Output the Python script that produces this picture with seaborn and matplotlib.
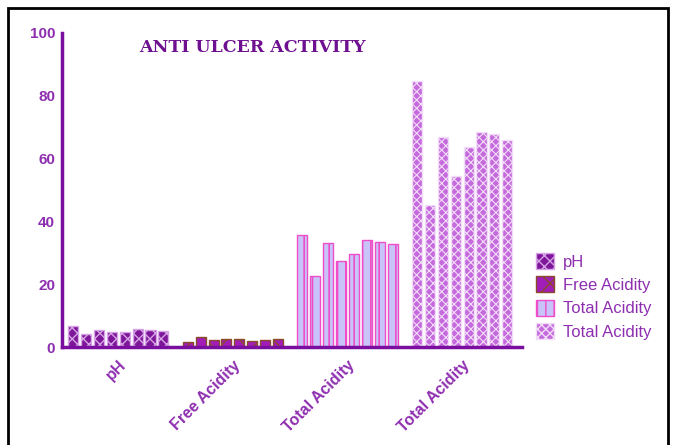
import pandas as pd
import numpy as np
import matplotlib
matplotlib.use("Agg")
import matplotlib.pyplot as plt
import matplotlib.patches as mpatches
import seaborn as sns

# ------------- DATA -------------
params = ["pH", "Free Acidity", "Total Acidity", "Total Acidity "]
legend_labels = ["pH", "Free Acidity", "Total Acidity", "Total Acidity"]
samples = ["S1", "S2", "S3", "S4", "S5", "S6", "S7", "S8"]
ph_vals = [6.6, 4.2, 5.5, 4.7, 4.9, 5.9, 5.6, 5.2]
free_vals = [1.5, 3.2, 2.4, 2.6, 2.6, 2.1, 2.2, 2.5]
total_vals = [35.8, 22.6, 33.0, 27.5, 29.5, 34.0, 33.4, 32.9]
total2_vals = [84.7, 45.1, 66.9, 54.5, 63.6, 68.4, 67.8, 65.8]

# ------------- STYLES -------------
PURPLE = "#7A0E9E"
TXT = "#8E2FB0"
styles = [
    dict(face="#7E1699", hatch_col="#D6A3E6", hatch="xxx", hlw=1.0),
    dict(face="#A21CB8", hatch_col="#8A4B2A", hatch="x", hlw=1.0),
    dict(face="#C8C4FA", hatch_col="#F04EC8", hatch="||", hlw=1.2),
    dict(face="#C46ADC", hatch_col="#F2DDF8", hatch="xxxx", hlw=0.8),
]

rows = []
for p, vals in zip(params, [ph_vals, free_vals, total_vals, total2_vals]):
    for s, v in zip(samples, vals):
        rows.append({"param": p, "sample": s, "value": v})
df = pd.DataFrame(rows)

sns.set_style("white")
plt.rcParams["font.family"] = ["Liberation Sans", "DejaVu Sans"]
plt.rcParams["hatch.linewidth"] = 1.0


def style_patch(patch, st):
    patch.set_facecolor(st["face"])
    patch.set_edgecolor(st["hatch_col"])
    patch.set_hatch(st["hatch"])
    patch.set_linewidth(1.0)
    try:
        patch.set_hatch_linewidth(st["hlw"])
    except Exception:
        pass


fig = plt.figure(figsize=(6.75, 4.45), dpi=100)
ax = fig.add_axes([0.092, 0.22, 0.681, 0.706])

sns.barplot(data=df, x="param", y="value", hue="sample", order=params,
            hue_order=samples, width=0.9, gap=0.22, legend=False, ax=ax,
            errorbar=None)

for patch in ax.patches:
    cx = patch.get_x() + patch.get_width() / 2
    style_patch(patch, styles[int(round(cx))])

ax.set_ylim(0, 100)
ax.set_xlim(-0.49, 3.52)
ax.set_yticks([0, 20, 40, 60, 80, 100])
ax.set_xlabel("")
ax.set_ylabel("")

for side in ["top", "right"]:
    ax.spines[side].set_visible(False)
for side in ["left", "bottom"]:
    ax.spines[side].set_color(PURPLE)
    ax.spines[side].set_linewidth(2.5)

ax.tick_params(axis="both", colors=PURPLE, width=2.5, length=4, direction="out")
ax.tick_params(axis="y", pad=1)
for lab in ax.get_yticklabels():
    lab.set_fontweight("bold")
    lab.set_fontsize(11)
    lab.set_color(TXT)
ax.set_xticks(range(4))
ax.set_xticklabels(legend_labels, rotation=45, ha="right",
                   rotation_mode="anchor", fontsize=11.5, fontweight="bold",
                   color=TXT)

ax.text(1.17, 95.5, "ANTI ULCER ACTIVITY", fontsize=12.5, fontweight="bold",
        family="DejaVu Serif", color="#6E1090", ha="center", va="center")

handles = []
for st in styles:
    h = mpatches.Patch(facecolor=st["face"], edgecolor=st["hatch_col"],
                       hatch=st["hatch"], linewidth=1.0)
    handles.append(h)
leg = fig.legend(handles, legend_labels, loc="upper left",
                 bbox_to_anchor=(0.772, 0.465), frameon=False, fontsize=12,
                 handlelength=1.1, handleheight=1.1, handletextpad=0.5,
                 labelspacing=0.4)
for t in leg.get_texts():
    t.set_color(TXT)

# outer frame
frame = mpatches.Rectangle((8 / 675, -0.1), 660 / 675, 1.1 - 8 / 445,
                           transform=fig.transFigure, fill=False,
                           edgecolor="black", linewidth=2, clip_on=False)
fig.patches.append(frame)

fig.savefig("out.png", dpi=100)
